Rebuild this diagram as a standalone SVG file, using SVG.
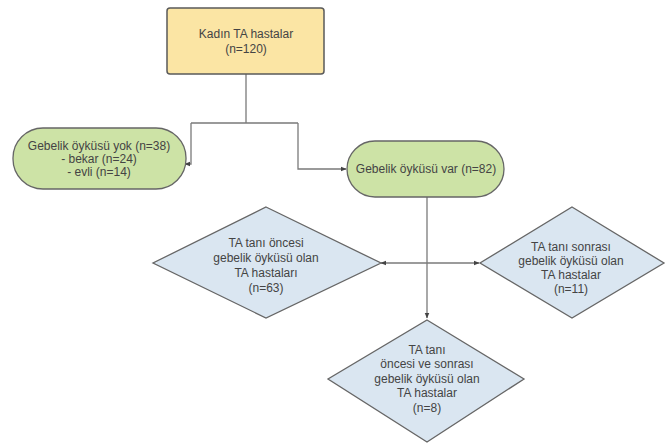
<svg xmlns="http://www.w3.org/2000/svg" width="667" height="448" viewBox="0 0 667 448">
<defs>
<marker id="arr" viewBox="0 0 10 10" refX="9" refY="5" markerWidth="6" markerHeight="6" orient="auto" markerUnits="userSpaceOnUse">
<path d="M0,1 L10,5 L0,9 Z" fill="#444"/>
</marker>
<style>
text{font-family:"Liberation Sans",Arial,sans-serif;font-size:12px;fill:#444;text-anchor:middle;dominant-baseline:central}
.edge{fill:none;stroke:#7a7a7a;stroke-width:1.3}
.yel{fill:#fbe5a4;stroke:#5a5a5a;stroke-width:1.5}
.grn{fill:#cde3a6;stroke:#666;stroke-width:1.3}
.blu{fill:#dae6f1;stroke:#666;stroke-width:1.3}
</style>
</defs>
<rect width="667" height="448" fill="#fff"/>
<g id="connectors">
<path class="edge" d="M246,74 V123 M191,123 H298"/>
<path class="edge" d="M191,123 V164 H185" marker-end="url(#arr)"/>
<path class="edge" d="M298,123 V169 H346" marker-end="url(#arr)"/>
<path class="edge" d="M427,197 V318" marker-end="url(#arr)"/>
<path class="edge" d="M427,263 H381" marker-end="url(#arr)"/>
<path class="edge" d="M427,263 H479" marker-end="url(#arr)"/>
</g>
<g id="n-root">
<rect class="yel" x="167" y="8" width="157" height="66" rx="3"/>
<text x="246" y="34">Kadın TA hastalar</text>
<text x="246" y="49">(n=120)</text>
</g>
<g id="n-yok">
<rect class="grn" x="13" y="128" width="173" height="61" rx="30"/>
<text x="99" y="146">Gebelik öyküsü yok (n=38)</text>
<text x="99" y="159">- bekar (n=24)</text>
<text x="99" y="172">- evli (n=14)</text>
</g>
<g id="n-var">
<rect class="grn" x="347" y="141" width="157" height="56" rx="28"/>
<text x="426" y="169">Gebelik öyküsü var (n=82)</text>
</g>
<g id="n-once">
<polygon class="blu" points="266,207 381,263 266,318 153,263"/>
<text x="266" y="243">TA tanı öncesi</text>
<text x="266" y="258">gebelik öyküsü olan</text>
<text x="266" y="273">TA hastaları</text>
<text x="266" y="288">(n=63)</text>
</g>
<g id="n-sonra">
<polygon class="blu" points="572,207 664,263 572,318 480,263"/>
<text x="571" y="247">TA tanı sonrası</text>
<text x="571" y="261">gebelik öyküsü olan</text>
<text x="571" y="275">TA hastalar</text>
<text x="571" y="289">(n=11)</text>
</g>
<g id="n-her">
<polygon class="blu" points="427,320 524,379 427,442 328,379"/>
<text x="427" y="350">TA tanı</text>
<text x="427" y="364">öncesi ve sonrası</text>
<text x="427" y="379">gebelik öyküsü olan</text>
<text x="427" y="393">TA hastalar</text>
<text x="427" y="408">(n=8)</text>
</g>
</svg>
